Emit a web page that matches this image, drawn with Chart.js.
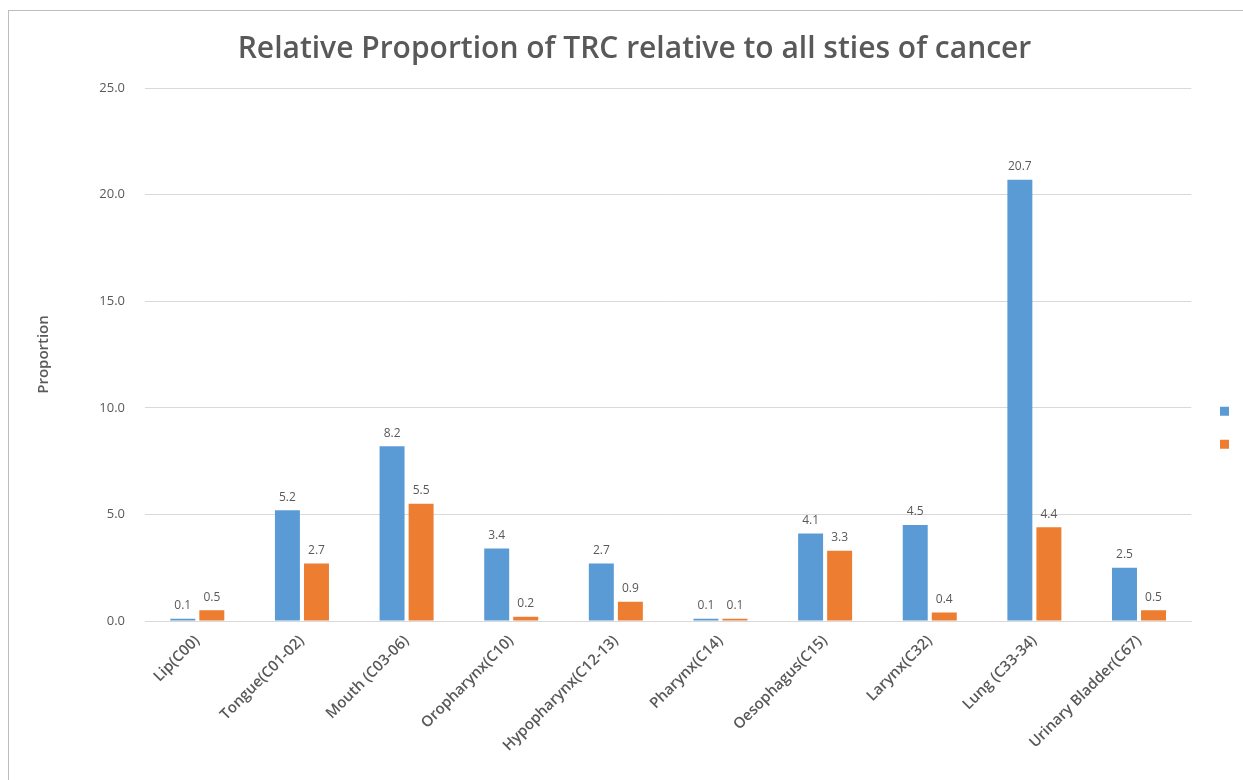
<!DOCTYPE html>
<html>
<head>
<meta charset="utf-8">
<script src="https://cdn.jsdelivr.net/npm/chart.js@4"></script>
<style>
  body { margin: 0; background: #fff; overflow: hidden; }
  .frame { position: absolute; left: 8px; top: 10px; width: 1300px; height: 800px; border: 1px solid #bdbdbd; }
  canvas { position: absolute; left: 0; top: 0; }
</style>
</head>
<body>
<div class="frame">
  <canvas id="trcChart" width="1234" height="769"></canvas>
</div>
<script>
const categories = ["Lip(C00)", "Tongue(C01-02)", "Mouth (C03-06)", "Oropharynx(C10)", "Hypopharynx(C12-13)",
  "Pharynx(C14)", "Oesophagus(C15)", "Larynx(C32)", "Lung (C33-34)", "Urinary Bladder(C67)"];
const maleValues = [0.1, 5.2, 8.2, 3.4, 2.7, 0.1, 4.1, 4.5, 20.7, 2.5];
const femaleValues = [0.5, 2.7, 5.5, 0.2, 0.9, 0.1, 3.3, 0.4, 4.4, 0.5];
const yTicks = [0, 5, 10, 15, 20, 25];

const textGray = "#595959";

// value labels drawn above each bar
const barLabels = {
  id: "barLabels",
  afterDatasetsDraw(chart) {
    const ctx = chart.ctx;
    ctx.save();
    ctx.font = "12px 'Open Sans'";
    ctx.fillStyle = textGray;
    ctx.textAlign = "center";
    ctx.textBaseline = "bottom";
    chart.data.datasets.forEach((ds, i) => {
      chart.getDatasetMeta(i).data.forEach((bar, j) => {
        ctx.fillText(ds.data[j].toFixed(1), bar.x, bar.y - 7);
      });
    });
    ctx.restore();
  }
};

const ctx = document.getElementById("trcChart").getContext("2d");
const trcChart = new Chart(ctx, {
  type: "bar",
  data: {
    labels: categories,
    datasets: [
      { label: " ", data: maleValues, backgroundColor: "#5b9bd5" },   // blue
      { label: " ", data: femaleValues, backgroundColor: "#ed7d31" }, // orange
    ],
  },
  options: {
    responsive: false,
    animation: false,
    categoryPercentage: 0.555,
    barPercentage: 0.86,
    layout: { padding: { left: 22, right: 5, top: 0, bottom: 0 } },
    plugins: {
      title: {
        display: true,
        text: "Relative Proportion of TRC relative to all sties of cancer",
        color: textGray,
        font: { family: "'Open Sans'", size: 30, weight: "600" },
        padding: { top: 20, bottom: 21 },
      },
      legend: {
        position: "right",
        rtl: true,
        title: { display: true, text: " ", padding: { top: 50, bottom: 0 } },
        labels: { boxWidth: 9, boxHeight: 9, padding: 9, font: { size: 24 } },
      },
      tooltip: { enabled: false },
    },
    scales: {
      x: {
        grid: { display: false },
        border: { color: "#d9d9d9" },
        ticks: {
          color: textGray,
          font: { family: "'Open Sans'", size: 15, weight: "600" },
          maxRotation: 45,
          minRotation: 45,
          autoSkip: false,
        },
        afterFit(scale) { scale.height = 159; },
      },
      y: {
        min: 0,
        max: 25,
        afterBuildTicks(scale) { scale.ticks = yTicks.map(v => ({ value: v })); },
        grid: { color: "#d9d9d9", drawTicks: false },
        border: { display: false },
        ticks: {
          color: textGray,
          padding: 20,
          font: { family: "'Open Sans'", size: 13 },
          callback: (value) => value.toFixed(1),
        },
        title: {
          display: true,
          text: "Proportion",
          color: textGray,
          font: { family: "'Open Sans'", size: 15, weight: "600" },
        },
        afterFit(scale) { scale.width = 114; },
      },
    },
  },
  plugins: [barLabels],
});
</script>
</body>
</html>
